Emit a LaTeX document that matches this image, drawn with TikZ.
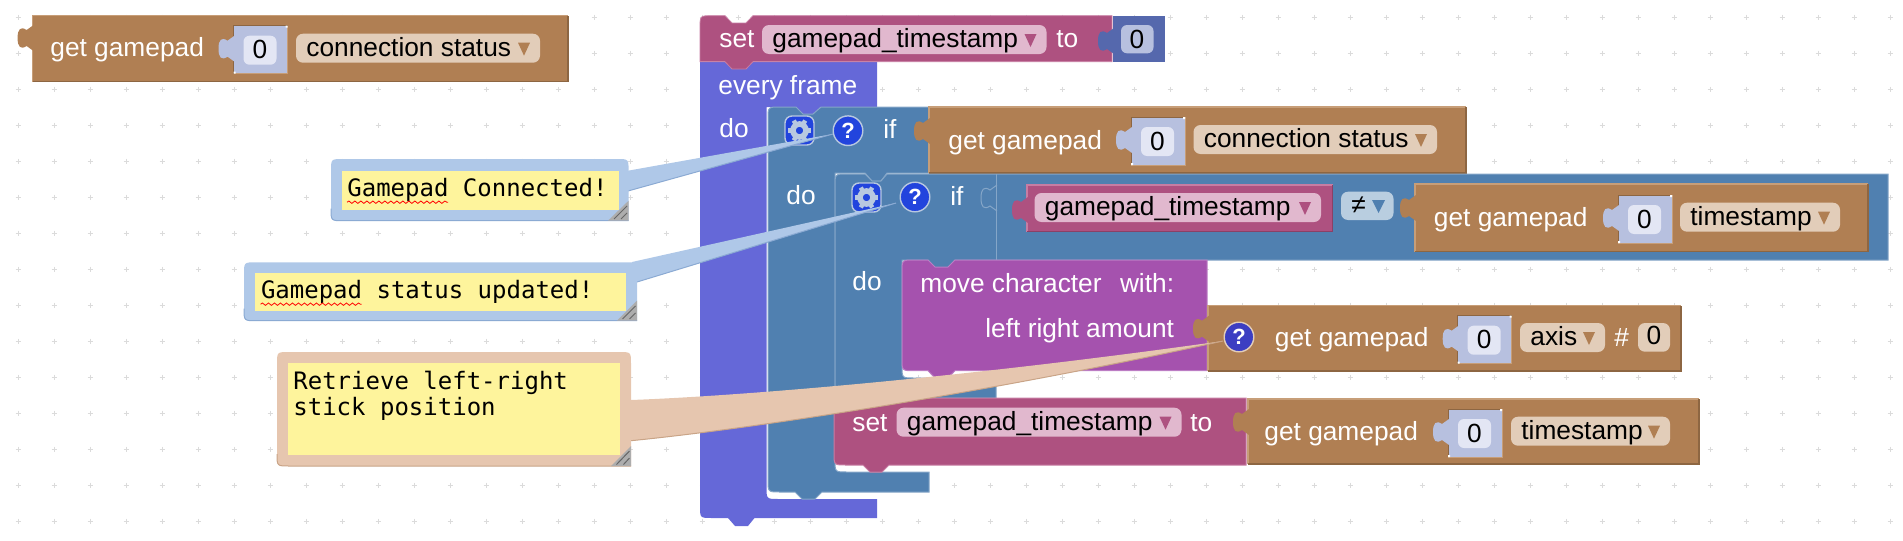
\documentclass[tikz,border=0pt]{standalone}
\usepackage{fontspec}
\setmainfont{Liberation Sans}
\newfontfamily\cmtfont{DejaVu Sans Mono}
\usetikzlibrary{decorations.pathmorphing}

\definecolor{brownblk}{HTML}{B07F53}
\definecolor{brownhi}{HTML}{C79E78}
\definecolor{brownlo}{HTML}{8D6642}
\definecolor{brownpill}{HTML}{E2CDB9}
\definecolor{pinkblk}{HTML}{AE5180}
\definecolor{pinkhi}{HTML}{C77DA3}
\definecolor{pinklo}{HTML}{8B4066}
\definecolor{pinkpill}{HTML}{E1B8CE}
\definecolor{indigoblk}{HTML}{6568D8}
\definecolor{steelblk}{HTML}{5080B0}
\definecolor{steelhi}{HTML}{85A6C8}
\definecolor{steelpill}{HTML}{B9CEE0}
\definecolor{purpleblk}{HTML}{A552AE}
\definecolor{purplehi}{HTML}{BC7DC4}
\definecolor{numblk}{HTML}{5568AD}
\definecolor{slotblue}{HTML}{B7C0DF}
\definecolor{fieldblue}{HTML}{E3E6F4}
\definecolor{cmtyellow}{HTML}{FEF49C}
\definecolor{cmtblue}{HTML}{AFC8E8}
\definecolor{cmtbluelo}{HTML}{8BAAD3}
\definecolor{cmttan}{HTML}{E6C6AF}
\definecolor{cmttanlo}{HTML}{C9A487}
\definecolor{iconblue}{HTML}{2244DD}
\definecolor{iconedge}{HTML}{B8C8E0}

\tikzset{
	gridmark/.style={draw=black!14,line width=.45pt},
	lbl/.style={inner sep=0pt,anchor=base west,yshift=-.5pt,text=white,font=\fontsize{13.15}{15}\selectfont},
	ddlbl/.style={lbl,text=black},
	digit/.style={inner sep=0pt,anchor=base,yshift=.3pt,text=black,font=\fontsize{13.15}{15}\selectfont},
	cmtlbl/.style={inner sep=0pt,anchor=base west,yshift=-.5pt,text=black,font=\cmtfont\fontsize{12}{13}\selectfont},
	squiggle/.style={draw=red,line width=.4pt,decorate,decoration={snake,amplitude=.6pt,segment length=3pt}},
	grip/.style={fill=black!32},
	griphatch/.style={draw=black!60,line width=.5pt},
	gearbox/.style={inner sep=0pt,minimum size=14.5pt,rounded corners=3.5pt,fill=iconblue,draw=iconedge,line width=.7pt},
	qmark/.style={circle,inner sep=0pt,minimum size=14.8pt,line width=.7pt,text=white,font=\bfseries\fontsize{11}{12}\selectfont},
}

% fragment of a path, the puzzle tab on the left of x
\newcommand{\tabpath}[2]{(#1+1,#2+26) -- (#1-6,#2+21) .. controls (#1-12,#2+25) and (#1-15,#2+22) .. (#1-15,#2+13) .. controls (#1-15,#2+4) and (#1-12,#2+1) .. (#1-6,#2+5) -- (#1+1,#2)}

\newcommand{\valblock}[5]{
	\fill[#1blk] (#2,#3) rectangle (#4,#5);
	\draw[#1hi,line width=.6pt] (#2,#5) -- (#2,#3) -- (#4,#3);
	\draw[#1lo,line width=.6pt] (#2,#5) -- (#4,#5) -- (#4,#3);
}

\newcommand{\numslot}[3]{
	\fill[slotblue] (#2,#3) rectangle (#2+54,#3+48);
	\draw[brownlo,line width=.5pt] (#2,#3+48) -- (#2,#3) -- (#2+54,#3);
	\draw[brownhi,line width=.5pt] (#2,#3+48) -- (#2+54,#3+48) -- (#2+54,#3);
	\fill[slotblue] \tabpath{#2}{#3+10} -- cycle;
	\fill[white] (#2+52,#3) rectangle (#2+54,#3+2) (#2,#3+46) rectangle (#2+2,#3+48);
	\fill[fieldblue,rounded corners=3pt] (#2+10,#3+10) rectangle (#2+43,#3+39);
	\node (#1) at (#2+26.5,#3+33.6) [digit] {0};
}

\newcommand{\dropdn}[7]{
	\fill[#2pill,rounded corners=3.5pt] (#4,#6) rectangle (#5,#6+29);
	\node (#1) at (#4+10,#6+21.5) [ddlbl] {#7};
	\fill[#3] (#5-22,#6+9) -- (#5-10,#6+9) -- (#5-16,#6+22) -- cycle;
}

\newcommand{\gearicon}[3]{
	\node (#1) at (#2,#3) [gearbox] {};
	\draw[iconedge,line width=2.8pt] (#1.center) circle (6.5);
	\foreach \ang in {0,60,...,300} {
		\draw[iconedge,line width=2.2pt] (#1.center) ++(\ang:8) -- ++(\ang:3.5);
	}
}

\begin{document}
\begin{tikzpicture}[x=.5pt,y=-.5pt]
	\useasboundingbox (0,0) rectangle (1903,541);
	\foreach \gx in {0,...,52} {
		\foreach \gy in {0,...,14} {
			\draw[gridmark] ({15.5+36*\gx},{17+36*\gy}) -- ++(5,0) ({18+36*\gx},{14.5+36*\gy}) -- ++(0,5);
		}
	}

	% lone getter, top left
	\valblock{brown}{32.6}{15.7}{568}{81.7}
	\fill[brownblk] \tabpath{32.6}{25} -- cycle;
	\node (getA) at (50,55) [lbl] {get gamepad};
	\numslot{numA}{233.5}{25.7}
	\dropdn{ddA}{brown}{brownblk}{296}{540}{33.7}{connection status}

	% every frame
	\fill[indigoblk] (700,506) -- (700,62) -- (877,62) -- (877,107) -- (821,107) -- (813,115) -- (803,115) -- (796,107)
		-- (766.5,107) -- (766.5,487) .. controls (766.5,499) .. (778.5,499) -- (877,499) -- (877,518) -- (754.5,518)
		-- (748,526) -- (735,526) -- (728,518) -- (712,518) .. controls (700,518) .. (700,506) -- cycle;
	\node (evframe) at (718,93) [lbl] {every frame};
	\node (doA) at (719,136.7) [lbl] {do};

	% set on top
	\filldraw[fill=pinkblk,draw=pinkhi,line width=.4pt] (700,28) .. controls (700,15.7) .. (712,15.7) -- (725,15.7) -- (732,23)
		-- (746,23) -- (753,15.7) -- (1112,15.7) -- (1112,61.7) -- (753,61.7) -- (746,69) -- (732,69) -- (725,61.7)
		-- (700,61.7) -- cycle;
	\node (setA) at (719,46.7) [lbl] {set};
	\dropdn{ddB}{pink}{pinkblk}{762}{1046.5}{25}{gamepad\_timestamp}
	\node (toA) at (1056,46.7) [lbl] {to};
	\fill[numblk] (1113,15.7) rectangle (1164.5,61.7);
	\fill[numblk] \tabpath{1113}{28} -- cycle;
	\fill[slotblue,rounded corners=3pt] (1121,25) rectangle (1153.5,53.3);
	\node (numB) at (1137,48.6) [digit] {0};

	% outer if
	\filldraw[fill=steelblk,draw=steelhi,line width=.5pt] (768,119) .. controls (768,107) .. (780,107)
		-- (796,107) -- (803,114) -- (813,114) -- (821,107) -- (929,107) -- (929,173) -- (887,173) -- (881,181)
		-- (872,181) -- (865,173) -- (835,173) -- (835,460) .. controls (835,472) .. (847,472) -- (929,472)
		-- (929,492) -- (822,492) -- (815,499) -- (802,499) -- (795,492) -- (780,492) .. controls (768,492) .. (768,480) -- cycle;
	\gearicon{gearA}{799.5}{130.5}
	\node (ifA) at (883,137) [lbl] {if};
	\node (doB) at (786,203.3) [lbl] {do};
	\valblock{brown}{929}{107}{1466}{173}
	\fill[brownblk] \tabpath{929}{118} -- cycle;
	\node (getB) at (948,148) [lbl] {get gamepad};
	\numslot{numC}{1131}{117}
	\dropdn{ddC}{brown}{brownblk}{1193.5}{1437}{125}{connection status}

	% inner if
	\filldraw[fill=steelblk,draw=steelhi,line width=.5pt] (835,186) .. controls (835,174) .. (847,174)
		-- (865,174) -- (872,181) -- (881,181) -- (887,174) -- (1888,174) -- (1888,260) -- (955,260) -- (948,268)
		-- (935,268) -- (928,260) -- (902,260) -- (902,366) .. controls (902,378) .. (914,378) -- (996,378)
		-- (996,398) -- (889,398) -- (882,405) -- (870,405) -- (863,398) -- (835,398) -- cycle;
	\draw[steelhi,line width=.5pt] (996,174) -- (996,260);
	\draw[steelhi,line width=.5pt] \tabpath{996}{185};
	\gearicon{gearB}{866.5}{197.5}
	\node (ifB) at (950,204) [lbl] {if};
	\valblock{pink}{1027}{185}{1332.7}{231.7}
	\fill[pinkblk] \tabpath{1027}{197} -- cycle;
	\dropdn{ddD}{pink}{pinkblk}{1034.5}{1321}{193}{gamepad\_timestamp}
	\fill[steelpill,rounded corners=3.5pt] (1341,191.7) rectangle (1393.5,220);
	\node (neq) at (1351,212.7) [ddlbl] {≠};
	\fill[steelblk] (1372,200) -- (1385,200) -- (1378.5,213) -- cycle;
	\valblock{brown}{1415}{184}{1868}{251.7}
	\fill[brownblk] \tabpath{1415}{195} -- cycle;
	\node (getC) at (1433.5,225) [lbl] {get gamepad};
	\numslot{numD}{1618}{195}
	\dropdn{ddE}{brown}{brownblk}{1680}{1840}{202.7}{timestamp}
	\node (doC) at (852,289.3) [lbl] {do};

	% move character
	\filldraw[fill=purpleblk,draw=purplehi,line width=.5pt] (902,272) .. controls (902,260) .. (914,260)
		-- (928,260) -- (935,267) -- (948,267) -- (955,260) -- (1207,260) -- (1207,370.7) -- (955,370.7)
		-- (948,378) -- (935,378) -- (928,370.7) -- (914,370.7) .. controls (902,370.7) .. (902,358.7) -- cycle;
	\node (moveChar) at (920,291.7) [lbl] {move character};
	\node (moveWith) at (1119.6,291.7) [lbl] {with:};
	\node (moveAmt) at (985,336.7) [lbl] {left right amount};
	\valblock{brown}{1208}{305.7}{1681}{371}
	\fill[brownblk] \tabpath{1208}{315.7} -- cycle;
	\node (getD) at (1274.5,345) [lbl] {get gamepad};
	\numslot{numE}{1457.7}{315.7}
	\dropdn{ddF}{brown}{brownblk}{1520}{1605}{323}{axis}
	\node (hash) at (1614,345) [lbl] {\#};
	\fill[brownpill,rounded corners=3.5pt] (1638,323) rectangle (1670,351.7);
	\node (numF) at (1654,345) [digit] {0};

	% set at the bottom
	\filldraw[fill=pinkblk,draw=pinkhi,line width=.5pt] (834,410) .. controls (834,398) .. (846,398)
		-- (863,398) -- (870,404) -- (882,404) -- (889,398) -- (1246,398) -- (1246,465) -- (889,465)
		-- (882,472) -- (870,472) -- (863,465) -- (846,465) .. controls (834,465) .. (834,453) -- cycle;
	\node (setB) at (852,430) [lbl] {set};
	\dropdn{ddG}{pink}{pinkblk}{896.5}{1181.5}{407.7}{gamepad\_timestamp}
	\node (toB) at (1190,430) [lbl] {to};
	\valblock{brown}{1248}{399}{1699}{464}
	\fill[brownblk] \tabpath{1248}{409} -- cycle;
	\node (getE) at (1264,439.3) [lbl] {get gamepad};
	\numslot{numG}{1448}{409}
	\dropdn{ddH}{brown}{brownblk}{1511}{1670}{416.7}{timestamp}

	% comment bubbles
	\fill[cmtblue] (628,170.7) -- (833,134) -- (628,191) -- cycle;
	\draw[cmtbluelo,line width=.5pt] (833,134) -- (628,191);
	\fill[cmtblue] (632,262) -- (896,203) -- (637,282) -- cycle;
	\draw[cmtbluelo,line width=.5pt] (896,203) -- (637,282);
	\fill[cmttan] (631,400) .. controls (740,396) and (960,378) .. (1223,341)
		.. controls (1000,390) and (760,428) .. (631,440.7) -- cycle;
	\draw[cmttanlo,line width=.5pt] (1223,341) .. controls (1000,390) and (760,428) .. (631,440.7);

	\fill[cmtblue] (331,171) .. controls (331,159) .. (343,159) -- (616.6,159)
		.. controls (628.6,159) .. (628.6,171) -- (628.6,220.7) -- (343,220.7) .. controls (331,220.7) .. (331,208.7) -- cycle;
	\draw[cmtbluelo,line width=.5pt] (628.6,220.7) -- (343,220.7) .. controls (331,220.7) .. (331,208.7);
	\fill[cmtyellow] (341.5,170.7) rectangle (619,210);
	\node (cmtA) at (347,195.7) [cmtlbl] {Gamepad Connected!};
	\draw[squiggle] (cmtA.base west) ++(0,5.5) -- ++(101,0);
	\fill[grip] (628.6,200.7) -- (628.6,220.7) -- (608,220.7) -- cycle;
	\draw[griphatch] (627,206) -- (614,219) (627,213) -- (621,219);

	\fill[cmtblue] (244,274.3) .. controls (244,262.3) .. (256,262.3) -- (632,262.3)
		.. controls (637,262.3) .. (637,270.3) -- (637,320.7) -- (256,320.7) .. controls (244,320.7) .. (244,308.7) -- cycle;
	\draw[cmtbluelo,line width=.5pt] (637,320.7) -- (256,320.7) .. controls (244,320.7) .. (244,308.7);
	\fill[cmtyellow] (254.5,273) rectangle (626,310.7);
	\node (cmtB) at (260.6,297.7) [cmtlbl] {Gamepad status updated!};
	\draw[squiggle] (cmtB.base west) ++(0,5.5) -- ++(101,0);
	\fill[grip] (637,300.7) -- (637,320.7) -- (617,320.7) -- cycle;
	\draw[griphatch] (635.5,306) -- (622.5,319) (635.5,313) -- (629.5,319);

	\fill[cmttan] (277,364) .. controls (277,352) .. (289,352) -- (619,352)
		.. controls (631,352) .. (631,364) -- (631,466) -- (289,466) .. controls (277,466) .. (277,454) -- cycle;
	\draw[cmttanlo,line width=.5pt] (631,466) -- (289,466) .. controls (277,466) .. (277,454);
	\fill[cmtyellow] (288,363) rectangle (620,455);
	\node (cmtC) at (293,388) [cmtlbl] {Retrieve left-right};
	\node (cmtD) at (293,414) [cmtlbl] {stick position};
	\fill[grip] (631,446) -- (631,466) -- (611,466) -- cycle;
	\draw[griphatch] (629.5,451) -- (616.5,464.5) (629.5,458) -- (623.5,464.5);

	% help marks sit over the bubble points
	\node (helpA) at (848,130.7) [qmark,fill=iconblue,draw=iconedge] {?};
	\node (helpB) at (915,197) [qmark,fill=iconblue,draw=iconedge] {?};
	\node (helpC) at (1239,337) [qmark,fill=indigoblk!70!blue!85!black,draw=brownpill] {?};
\end{tikzpicture}
\end{document}
